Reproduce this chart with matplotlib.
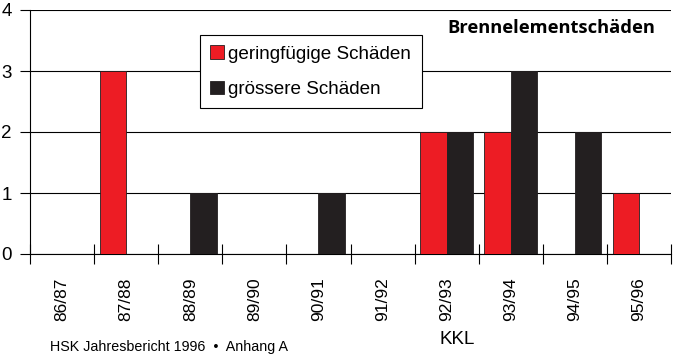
import numpy as np
import matplotlib
matplotlib.use('Agg')
import matplotlib.pyplot as plt

# Daten
categories = ['86/87', '87/88', '88/89', '89/90', '90/91', '91/92', '92/93', '93/94', '94/95', '95/96']
minor_damage = [0, 3, 0, 0, 0, 0, 2, 2, 0, 1]
major_damage = [0, 0, 1, 0, 1, 0, 2, 3, 2, 0]

red = '#ED1C24'
black = '#231F20'

plt.rcParams['font.family'] = ['Liberation Sans', 'DejaVu Sans']

fig = plt.figure(figsize=(6.74, 3.54), dpi=100)
ax = fig.add_axes([30/674, 1 - 254/354, 641/674, 244/354])

x = np.arange(len(categories))
w = 0.41
ax.bar(x - w/2, minor_damage, w, color=red, edgecolor=black, linewidth=0.6,
       label='geringfügige Schäden', zorder=3)
ax.bar(x + w/2, major_damage, w, color=black, edgecolor=black, linewidth=0.6,
       label='grössere Schäden', zorder=3)

ax.set_xlim(-0.5, len(categories) - 0.5)
ax.set_ylim(0, 4)
ax.set_yticks([0, 1, 2, 3, 4])
ax.yaxis.grid(True, color='black', linewidth=0.8, zorder=0)
ax.tick_params(axis='y', labelsize=13.5, length=7, width=0.8, pad=6, direction='out')

# Ticks an den Kategoriegrenzen, Labels in der Mitte
ax.set_xticks(np.arange(-0.5, len(categories)), minor=False)
ax.set_xticklabels([])
ax.tick_params(axis='x', which='major', direction='inout', length=14, width=0.8)
ax.set_xticks(x, minor=True)
ax.set_xticklabels(categories, minor=True, rotation=90, fontsize=12.5)
ax.tick_params(axis='x', which='minor', length=0, pad=17)

for s in ['top', 'right']:
    ax.spines[s].set_visible(False)
ax.spines['left'].set_linewidth(0.8)
ax.spines['bottom'].set_linewidth(0.8)

leg = ax.legend(loc='upper left', bbox_to_anchor=(170/641, 219/244), fontsize=13.6,
                frameon=True, fancybox=False, edgecolor='black', framealpha=1,
                handlelength=0.7, handleheight=0.7, handletextpad=0.25,
                labelspacing=0.95, borderpad=0.55, borderaxespad=0)
leg.get_frame().set_linewidth(0.8)

fig.text(551/674, 1 - 28/354, 'Brennelementschäden', fontsize=13.2, fontweight='bold',
         ha='center', va='center', family=['Open Sans', 'DejaVu Sans'])
fig.text(457/674, 1 - 340/354, 'KKL', fontsize=13.5, ha='center', va='center')
fig.text(50/674, 1 - 347/354, 'HSK Jahresbericht 1996  \u2022  Anhang A', fontsize=10.3,
         ha='left', va='center')

fig.savefig('out.png', dpi=100)
